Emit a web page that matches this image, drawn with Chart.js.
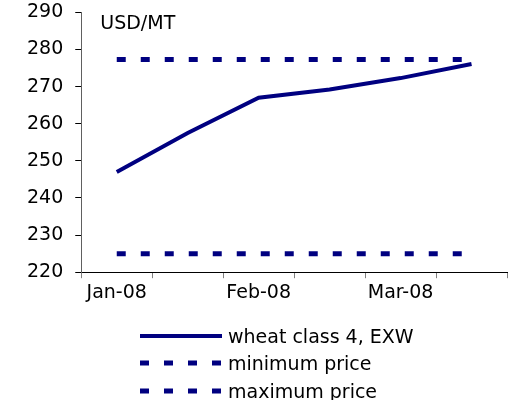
<!DOCTYPE html>
<html>
<head>
<meta charset="utf-8">
<script src="https://cdn.jsdelivr.net/npm/chart.js@4.4.1/dist/chart.umd.min.js"></script>
<style>
  html, body { margin: 0; padding: 0; background: #fff; overflow: hidden; }
  #wrap { position: relative; width: 510px; height: 400px; overflow: hidden; }
  #chart { position: absolute; left: 0; top: -11px; }
  #legend {
    position: absolute; left: 140px; top: 322px;
    font-family: 'DejaVu Sans', Verdana, sans-serif; font-size: 19px; color: #000;
  }
  #legend .row { display: flex; align-items: center; height: 27.5px; }
  #legend svg { margin-right: 6px; }
</style>
</head>
<body>
<div id="wrap">
  <canvas id="chart" width="510" height="411"></canvas>
  <div id="legend"></div>
</div>
<script>
const categories = ['Jan-08', '', 'Feb-08', '', 'Mar-08', ''];
const wheatPrice = [247, 257.5, 267, 269.2, 272.3, 276.1];
const minimumPrice = [225, 225, 225, 225, 225, 225];
const maximumPrice = [277.3, 277.3, 277.3, 277.3, 277.3, 277.3];
const yTicks = [220, 230, 240, 250, 260, 270, 280, 290];

const NAVY = '#000080';
const FONT = "'DejaVu Sans', Verdana, sans-serif";

const series = [
  { label: 'wheat class 4, EXW', data: wheatPrice, dash: [] },
  { label: 'minimum price', data: minimumPrice, dash: [9, 15] },
  { label: 'maximum price', data: maximumPrice, dash: [9, 15] },
];

// "USD/MT" unit caption inside the plot
const unitLabel = {
  id: 'unitLabel',
  afterDraw(chart) {
    const { ctx, chartArea } = chart;
    ctx.save();
    ctx.font = `19px ${FONT}`;
    ctx.fillStyle = '#000';
    ctx.textBaseline = 'middle';
    ctx.fillText('USD/MT', chartArea.left + 19, chartArea.top + 12);
    ctx.restore();
  },
};

new Chart(document.getElementById('chart').getContext('2d'), {
  type: 'line',
  data: {
    labels: categories,
    datasets: series.map((s) => ({
      label: s.label,
      data: s.data,
      borderColor: NAVY,
      borderWidth: s.dash.length ? 5 : 4,
      borderDash: s.dash,
      borderCapStyle: 'butt',
      pointRadius: 0,
      tension: 0,
      fill: false,
    })),
  },
  options: {
    responsive: false,
    animation: false,
    layout: { padding: { left: 15, right: 3, top: 0, bottom: 93 } },
    plugins: {
      legend: { display: false },
      tooltip: { enabled: false },
    },
    scales: {
      x: {
        offset: true,
        grid: {
          offset: true,
          drawOnChartArea: false,
          tickLength: 6,
          color: '#808080',
        },
        border: { color: '#000', width: 1 },
        ticks: {
          autoSkip: false,
          maxRotation: 0,
          padding: 3,
          color: '#000',
          font: { family: FONT, size: 19 },
        },
      },
      y: {
        min: 220,
        max: 290,
        afterBuildTicks: (axis) => {
          axis.ticks = yTicks.map((v) => ({ value: v }));
        },
        grid: {
          drawOnChartArea: false,
          tickLength: 6,
          color: '#000',
        },
        border: { color: '#606060', width: 1 },
        ticks: {
          padding: 12,
          color: '#000',
          font: { family: FONT, size: 19 },
        },
      },
    },
  },
  plugins: [unitLabel],
});

// legend as html rows
const legend = document.getElementById('legend');
for (const s of series) {
  const row = document.createElement('div');
  row.className = 'row';
  const dash = s.dash.length ? `stroke-dasharray="${s.dash.join(' ')}"` : '';
  const w = s.dash.length ? 5 : 4;
  row.innerHTML =
    `<svg width="82" height="10"><line x1="0" y1="5" x2="82" y2="5" stroke="${NAVY}" stroke-width="${w}" ${dash}/></svg>` +
    `<span>${s.label}</span>`;
  legend.appendChild(row);
}
</script>
</body>
</html>
